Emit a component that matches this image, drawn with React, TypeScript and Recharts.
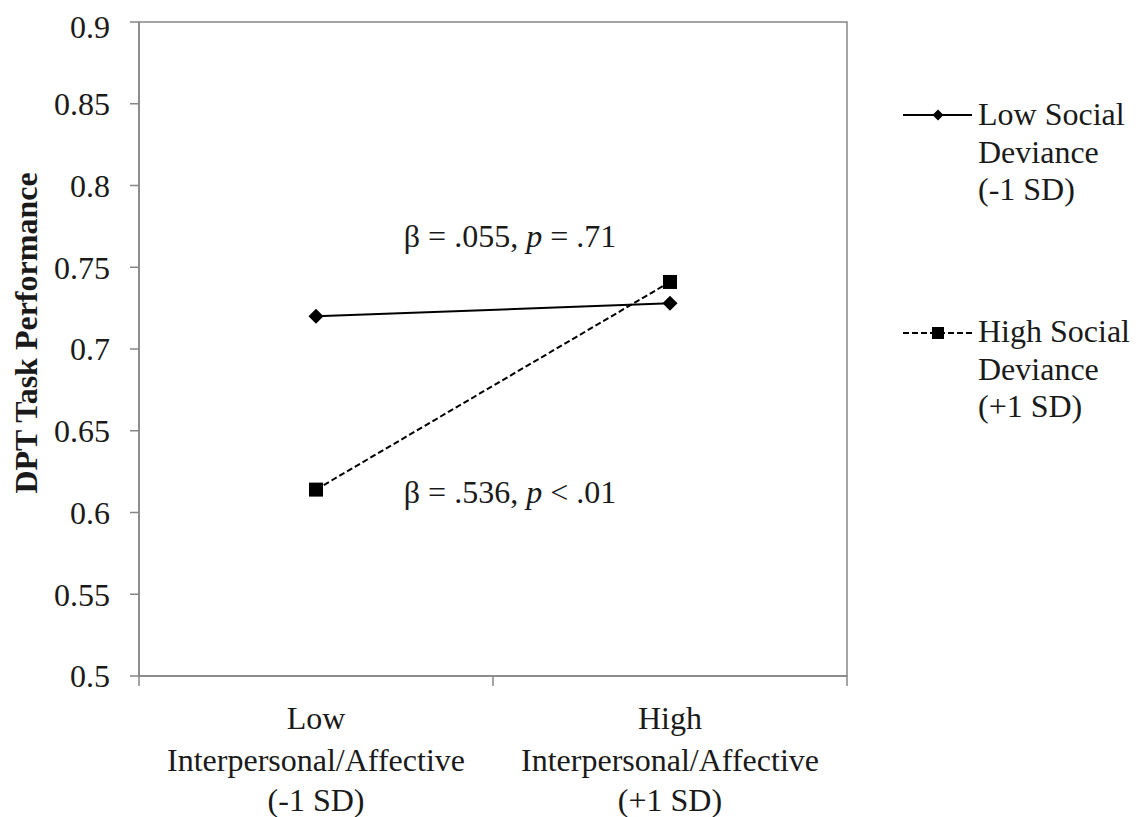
import React from "react";
import {
  LineChart,
  Line,
  XAxis,
  YAxis,
  ReferenceArea,
} from "recharts";

const categories = ["Low", "High"];
const xLabelLines = [
  ["Low", "Interpersonal/Affective", "(-1 SD)"],
  ["High", "Interpersonal/Affective", "(+1 SD)"],
];
const lowSocialDeviance = [0.72, 0.728];
const highSocialDeviance = [0.614, 0.741];
const yTicks = [0.5, 0.55, 0.6, 0.65, 0.7, 0.75, 0.8, 0.85, 0.9];
const legendLines = [
  ["Low Social", "Deviance", "(-1 SD)"],
  ["High Social", "Deviance", "(+1 SD)"],
];
const annotations = [
  { beta: ".055", op: "=", p: ".71" },
  { beta: ".536", op: "<", p: ".01" },
];

const data = categories.map((c, i) => ({
  cat: c,
  low: lowSocialDeviance[i],
  high: highSocialDeviance[i],
}));

const FONT = "'Liberation Serif', 'Times New Roman', serif";
const FS = 32;
const TEXT = "#1a1a1a";
const AXIS = "#868686";
const W = 1135;
const H = 809;
const PLOT_W = 708;
const BAND = PLOT_W / categories.length;

const Diamond = (props: any) => {
  const { cx, cy } = props;
  if (cx == null || cy == null) return null;
  const r = 7.5;
  return (
    <path
      d={`M${cx},${cy - r}L${cx + r},${cy}L${cx},${cy + r}L${cx - r},${cy}Z`}
      fill="#000"
    />
  );
};

const Square = (props: any) => {
  const { cx, cy } = props;
  if (cx == null || cy == null) return null;
  const s = 14;
  return <rect x={cx - s / 2} y={cy - s / 2} width={s} height={s} fill="#000" />;
};

const XTick = (props: any) => {
  const { x, y, index } = props;
  const lines = xLabelLines[index] || [];
  const offs = [53, 95, 135];
  return (
    <g>
      <line x1={x - BAND / 2} x2={x - BAND / 2} y1={y} y2={y + 10} stroke={AXIS} strokeWidth={1.5} />
      {index === categories.length - 1 && (
        <line x1={x + BAND / 2} x2={x + BAND / 2} y1={y} y2={y + 10} stroke={AXIS} strokeWidth={1.5} />
      )}
      {lines.map((t, i) => (
        <text key={i} x={x} y={y + offs[i]} textAnchor="middle" fontFamily={FONT} fontSize={FS} fill={TEXT}>
          {t}
        </text>
      ))}
    </g>
  );
};

const YLabel = () => (
  <text
    x={29}
    y={325}
    transform="rotate(-90 29 325)"
    textAnchor="middle"
    fontFamily={FONT}
    fontSize={FS}
    fontWeight="bold"
    fill={TEXT}
  >
    DPT Task Performance
  </text>
);

export default function App() {
  return (
    <div style={{ position: "relative", width: W, height: H, background: "#fff" }}>
      <LineChart
        width={W}
        height={H}
        data={data}
        margin={{ top: 14, right: 296, bottom: 0, left: 0 }}
      >
        <XAxis
          dataKey="cat"
          scale="band"
          height={141}
          axisLine={{ stroke: AXIS, strokeWidth: 1.5 }}
          tickLine={false}
          tickSize={0}
          tickMargin={0}
          tick={<XTick />}
          interval={0}
        />
        <YAxis
          width={131}
          domain={[0.5, 0.9]}
          ticks={yTicks}
          type="number"
          axisLine={{ stroke: AXIS, strokeWidth: 1.5 }}
          tickLine={{ stroke: AXIS, strokeWidth: 1.5 }}
          tickSize={9}
          tickMargin={20}
          tickFormatter={(v: number) => String(+v.toFixed(2))}
          tick={{ fontFamily: FONT, fontSize: FS, fill: TEXT }}
          label={<YLabel />}
        />
        <ReferenceArea y1={0.5} y2={0.9} fill="none" stroke={AXIS} strokeWidth={1.5} />
        <Line
          dataKey="low"
          stroke="#000"
          strokeWidth={2}
          dot={<Diamond />}
          activeDot={false}
          isAnimationActive={false}
        />
        <Line
          dataKey="high"
          stroke="#000"
          strokeWidth={2}
          strokeDasharray="6 3"
          dot={<Square />}
          activeDot={false}
          isAnimationActive={false}
        />
      </LineChart>
      <svg
        width={W}
        height={H}
        style={{ position: "absolute", left: 0, top: 0, pointerEvents: "none" }}
      >
        {annotations.map((a, i) => (
          <text
            key={i}
            x={502}
            y={i === 0 ? 239 : 495}
            textAnchor="middle"
            fontFamily={FONT}
            fontSize={FS}
            fill={TEXT}
          >
            {`β = ${a.beta}, `}
            <tspan fontStyle="italic">p</tspan>
            {` ${a.op} ${a.p}`}
          </text>
        ))}
        {legendLines.map((lines, i) => {
          const sy = i === 0 ? 107 : 325;
          const base = i === 0 ? 117 : 334;
          return (
            <g key={i}>
              <line
                x1={895}
                x2={964}
                y1={sy}
                y2={sy}
                stroke="#000"
                strokeWidth={2}
                strokeDasharray={i === 0 ? undefined : "6 3"}
              />
              {i === 0 ? (
                <path d={`M930,${sy - 5.5}L935.5,${sy}L930,${sy + 5.5}L924.5,${sy}Z`} fill="#000" />
              ) : (
                <rect x={924} y={sy - 6} width={12} height={12} fill="#000" />
              )}
              {lines.map((t, j) => (
                <text
                  key={j}
                  x={970}
                  y={base + j * 37.5}
                  fontFamily={FONT}
                  fontSize={FS}
                  fill={TEXT}
                >
                  {t}
                </text>
              ))}
            </g>
          );
        })}
      </svg>
    </div>
  );
}
